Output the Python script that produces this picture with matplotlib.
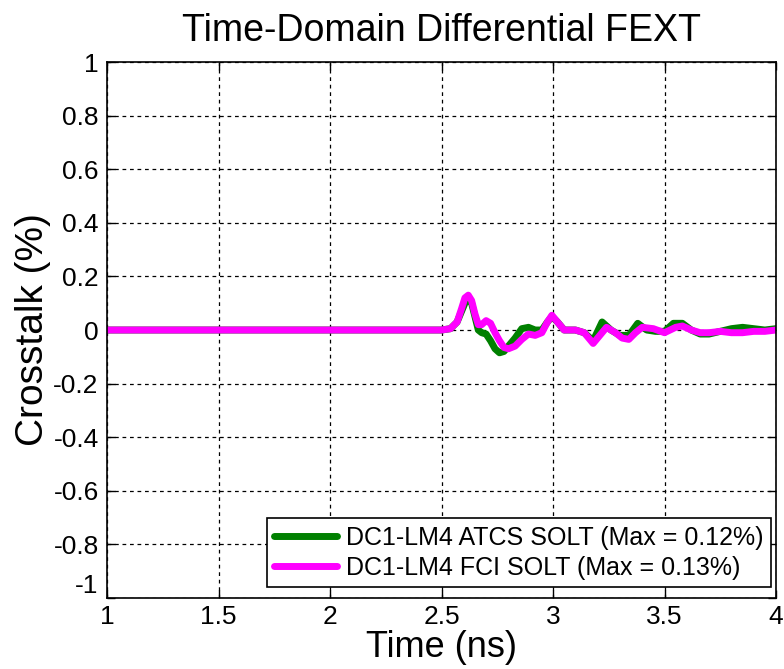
import matplotlib
matplotlib.use("Agg")
import matplotlib.pyplot as plt

plt.rcParams['font.family'] = ['Liberation Sans', 'DejaVu Sans']

# Time axis (ns) and differential far-end crosstalk (%) for each calibration
t_atcs = [1.0, 2.50, 2.54, 2.57, 2.59, 2.605, 2.62, 2.635, 2.65, 2.665, 2.68, 2.70,
          2.72, 2.74, 2.76, 2.78, 2.80, 2.83, 2.86, 2.89, 2.92, 2.95, 2.975, 2.995,
          3.02, 3.05, 3.10, 3.14, 3.18, 3.22, 3.26, 3.30, 3.34, 3.38, 3.42, 3.46,
          3.50, 3.54, 3.58, 3.62, 3.66, 3.70, 3.75, 3.80, 3.85, 3.90, 3.95, 4.0]
x_atcs = [0.0, 0.0, 0.005, 0.03, 0.07, 0.10, 0.12, 0.10, 0.05, 0.0, -0.01, -0.015,
          -0.04, -0.07, -0.085, -0.08, -0.06, -0.03, 0.005, 0.01, 0.0, 0.0, 0.03, 0.05,
          0.03, 0.0, 0.0, -0.01, -0.04, 0.03, 0.0, -0.02, -0.02, 0.025, 0.0, -0.005,
          -0.005, 0.025, 0.025, 0.0, -0.015, -0.015, -0.005, 0.005, 0.01, 0.005, 0.0, 0.005]

t_fci = [1.0, 2.50, 2.54, 2.57, 2.59, 2.605, 2.62, 2.635, 2.65, 2.665, 2.68, 2.70,
         2.72, 2.74, 2.76, 2.78, 2.80, 2.83, 2.86, 2.89, 2.92, 2.95, 2.975, 2.995,
         3.02, 3.05, 3.10, 3.14, 3.18, 3.21, 3.24, 3.28, 3.31, 3.34, 3.37, 3.40,
         3.45, 3.50, 3.55, 3.58, 3.62, 3.66, 3.70, 3.75, 3.80, 3.85, 3.90, 3.95, 4.0]
x_fci = [0.0, 0.0, 0.005, 0.03, 0.08, 0.12, 0.13, 0.11, 0.06, 0.02, 0.02, 0.035,
         0.025, -0.01, -0.04, -0.065, -0.07, -0.06, -0.035, -0.015, -0.02, -0.01, 0.03, 0.055,
         0.03, 0.0, 0.0, -0.01, -0.05, -0.02, 0.01, -0.01, -0.03, -0.035, -0.01, 0.01,
         0.005, -0.01, 0.01, 0.015, 0.0, -0.01, -0.01, -0.005, -0.01, -0.01, -0.005, -0.005, 0.0]

labels = ['DC1-LM4 ATCS SOLT (Max = 0.12%)', 'DC1-LM4 FCI SOLT (Max = 0.13%)']
x_ticks = [1, 1.5, 2, 2.5, 3, 3.5, 4]
x_tick_labels = ['1', '1.5', '2', '2.5', '3', '3.5', '4']
y_ticks = [-1, -0.8, -0.6, -0.4, -0.2, 0, 0.2, 0.4, 0.6, 0.8, 1]
y_tick_labels = ['-1', '-0.8', '-0.6', '-0.4', '-0.2', '0', '0.2', '0.4', '0.6', '0.8', '1']

fig = plt.figure(figsize=(7.84, 6.69), dpi=100)
ax = fig.add_axes([0.1365, 0.1061, 0.8533, 0.8012])

ax.plot(t_atcs, x_atcs, color='#008000', lw=5, label=labels[0],
        solid_joinstyle='round', solid_capstyle='round')
ax.plot(t_fci, x_fci, color='#FF00FF', lw=5, label=labels[1],
        solid_joinstyle='round', solid_capstyle='round')

ax.set_xlim(1, 4)
ax.set_ylim(-1, 1)
ax.set_xticks(x_ticks)
ax.set_xticklabels(x_tick_labels)
ax.set_yticks(y_ticks)
ax.set_yticklabels(y_tick_labels)
ax.tick_params(direction='in', length=6, width=1, top=True, right=True,
               labelsize=19, colors='black')
ax.tick_params(axis='x', pad=5)
ax.tick_params(axis='y', pad=6)
# keep the lowest y label clear of the first x label
ax.get_yticklabels()[0].set_verticalalignment('bottom')

ax.grid(True, color='black', linestyle=(0, (3, 3)), linewidth=0.9)
ax.set_axisbelow(True)
for s in ax.spines.values():
    s.set_linewidth(1.2)
    s.set_color('black')

ax.set_title('Time-Domain Differential FEXT', fontsize=27, pad=15)
ax.set_xlabel('Time (ns)', fontsize=26, labelpad=1)
ax.set_ylabel('Crosstalk (%)', fontsize=28, labelpad=2)

leg = ax.legend(loc='lower right', bbox_to_anchor=(0.992, 0.02), fontsize=18,
                frameon=True, fancybox=False, edgecolor='black', framealpha=1,
                handlelength=2.5, handletextpad=0.35, borderpad=0.3,
                labelspacing=0.25, borderaxespad=0)
leg.get_frame().set_linewidth(1.2)

fig.savefig('out.png', dpi=100, facecolor='white')
